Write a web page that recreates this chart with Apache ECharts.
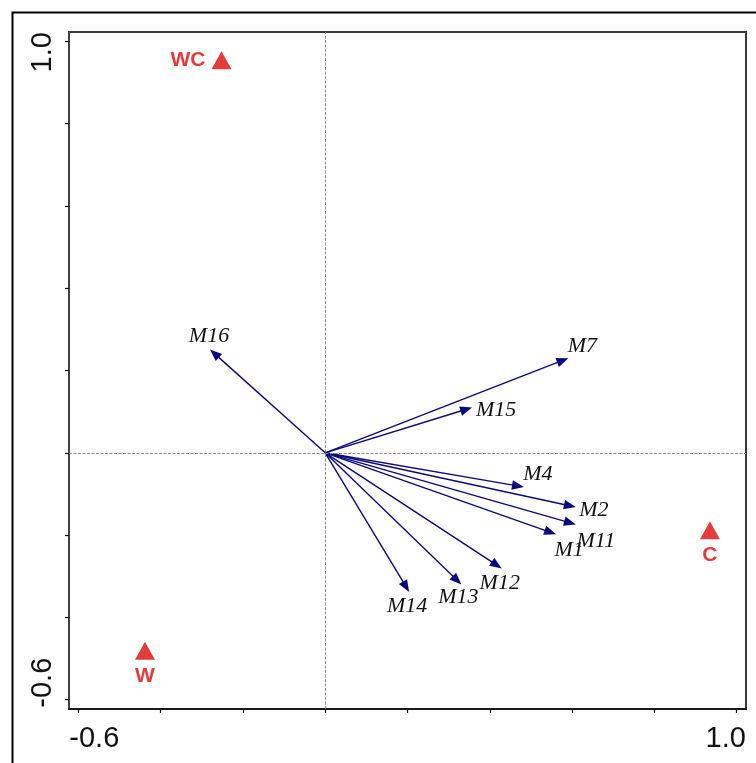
<!DOCTYPE html>
<html>
<head>
<meta charset="utf-8">
<title>RDA biplot</title>
<script src="https://cdn.jsdelivr.net/npm/echarts@6/dist/echarts.min.js"></script>
<style>
  html, body { margin: 0; padding: 0; background: #fff; }
  #chart { width: 756px; height: 763px; }
</style>
</head>
<body>
<div id="chart"></div>
<script>
// Response variables (arrows): scores on ordination axes 1 and 2
const variables = ['M7', 'M15', 'M4', 'M2', 'M1', 'M11', 'M12', 'M13', 'M14', 'M16'];
const varAxis1 = [0.591, 0.357, 0.483, 0.609, 0.561, 0.609, 0.429, 0.331, 0.204, -0.280];
const varAxis2 = [0.230, 0.110, -0.083, -0.132, -0.198, -0.174, -0.281, -0.320, -0.338, 0.251];

// Treatment centroids (triangles)
const samples = ['WC', 'W', 'C'];
const sampleAxis1 = [-0.252, -0.438, 0.935];
const sampleAxis2 = [0.954, -0.481, -0.188];

// Axis ticks and the two labelled ends
const tickValues = [-0.6, -0.4, -0.2, 0.0, 0.2, 0.4, 0.6, 0.8, 1.0];
const labelValues = [-0.6, 1.0];
const labelTexts = ['-0.6', '1.0'];

// Label placement (pixel offsets from the arrow tip to the label centre)
const arrowLabelOffset = {
  M7: [14, -12], M15: [24, 3], M4: [14, -13], M2: [18, 3], M11: [20, 17],
  M1: [13, 16], M12: [-2, 15], M13: [-3, 13], M14: [-2, 14], M16: [-1, -13]
};
const sampleLabelPos = { WC: 'left', W: 'bottom', C: 'bottom' };

const RED = '#e43b3b';
const NAVY = '#0a0a80';
const AXIS_MIN = -0.6226, AXIS_MAX = 1.0226;
const HEAD_LEN = 12, HEAD_HALF = 4.8;

const arrowData = variables.map((n, i) => [varAxis1[i], varAxis2[i], n]);
const sampleData = samples.map((n, i) => ({
  name: n,
  value: [sampleAxis1[i], sampleAxis2[i]],
  label: { position: sampleLabelPos[n] }
}));

function tickLabel(v) {
  const idx = labelValues.findIndex(t => Math.abs(t - v) < 1e-9);
  if (idx < 0) return '';
  return '{' + (idx === 0 ? 'lo' : 'hi') + '|' + labelTexts[idx] + '}';
}

const labelFont = { fontFamily: 'Liberation Sans, Arial, sans-serif', fontSize: 29, color: '#111' };

const chart = echarts.init(document.getElementById('chart'), null, { renderer: 'canvas' });
chart.setOption({
  backgroundColor: '#fff',
  animation: false,
  graphic: [{
    type: 'rect',
    left: 10, top: 10,
    shape: { width: 760, height: 760 },
    style: { fill: 'none', stroke: '#000', lineWidth: 2 },
    silent: true
  }],
  grid: {
    left: 69, top: 32, width: 677, height: 677,
    show: true, borderColor: '#3a3a3a', borderWidth: 2, backgroundColor: 'transparent'
  },
  xAxis: {
    type: 'value', min: AXIS_MIN, max: AXIS_MAX,
    axisLine: { show: true, onZero: false, lineStyle: { color: '#111', width: 1.5 } },
    axisTick: { show: true, customValues: tickValues, length: 4, lineStyle: { color: '#111', width: 1.2 } },
    splitLine: { show: false },
    axisLabel: {
      customValues: labelValues, margin: 15, formatter: tickLabel,
      ...labelFont,
      rich: {
        lo: { ...labelFont, padding: [0, 0, 0, 32] },
        hi: { ...labelFont, padding: [0, 22, 0, 0] }
      }
    }
  },
  yAxis: {
    type: 'value', min: AXIS_MIN, max: AXIS_MAX,
    axisLine: { show: true, onZero: false, lineStyle: { color: '#444', width: 1.5 } },
    axisTick: { show: true, customValues: tickValues, length: 4, lineStyle: { color: '#111', width: 1.2 } },
    splitLine: { show: false },
    axisLabel: {
      customValues: labelValues, margin: 12, rotate: 90, formatter: tickLabel,
      ...labelFont,
      rich: {
        lo: { ...labelFont, padding: [0, 0, 0, 34] },
        hi: { ...labelFont, padding: [0, 22, 0, 0] }
      }
    }
  },
  series: [
    {
      // dashed zero reference lines
      type: 'scatter', data: [], silent: true,
      markLine: {
        silent: true, symbol: 'none', label: { show: false },
        lineStyle: { color: '#8c8c8c', width: 1, type: [3, 1.5] },
        data: [{ xAxis: 0 }, { yAxis: 0 }]
      }
    },
    {
      // variable arrows from the origin
      type: 'custom', silent: true,
      data: arrowData,
      encode: { x: 0, y: 1 },
      renderItem(params, api) {
        const x = api.value(0), y = api.value(1);
        const name = arrowData[params.dataIndex][2];
        const p0 = api.coord([0, 0]);
        const p1 = api.coord([x, y]);
        const dx = p1[0] - p0[0], dy = p1[1] - p0[1];
        const len = Math.hypot(dx, dy);
        const ux = dx / len, uy = dy / len;
        const bx = p1[0] - ux * HEAD_LEN, by = p1[1] - uy * HEAD_LEN;
        const nx = -uy, ny = ux;
        const off = arrowLabelOffset[name] || [0, 0];
        return {
          type: 'group',
          children: [
            { type: 'line', shape: { x1: p0[0], y1: p0[1], x2: bx + ux, y2: by + uy },
              style: { stroke: NAVY, lineWidth: 1.4 } },
            { type: 'polygon',
              shape: { points: [[p1[0], p1[1]], [bx + nx * HEAD_HALF, by + ny * HEAD_HALF], [bx - nx * HEAD_HALF, by - ny * HEAD_HALF]] },
              style: { fill: NAVY } },
            { type: 'text', x: p1[0] + off[0], y: p1[1] + off[1],
              style: { text: name, align: 'center', verticalAlign: 'middle',
                       font: 'italic 22px "Liberation Serif", "Times New Roman", serif', fill: '#111' } }
          ]
        };
      }
    },
    {
      // treatment centroids
      type: 'scatter', silent: true,
      symbol: 'triangle', symbolSize: [20, 18],
      itemStyle: { color: RED, opacity: 1 },
      data: sampleData,
      label: {
        show: true, formatter: '{b}', distance: 6,
        color: RED, fontFamily: 'Liberation Sans, Arial, sans-serif', fontWeight: 'bold', fontSize: 21
      }
    }
  ]
});
</script>
</body>
</html>
